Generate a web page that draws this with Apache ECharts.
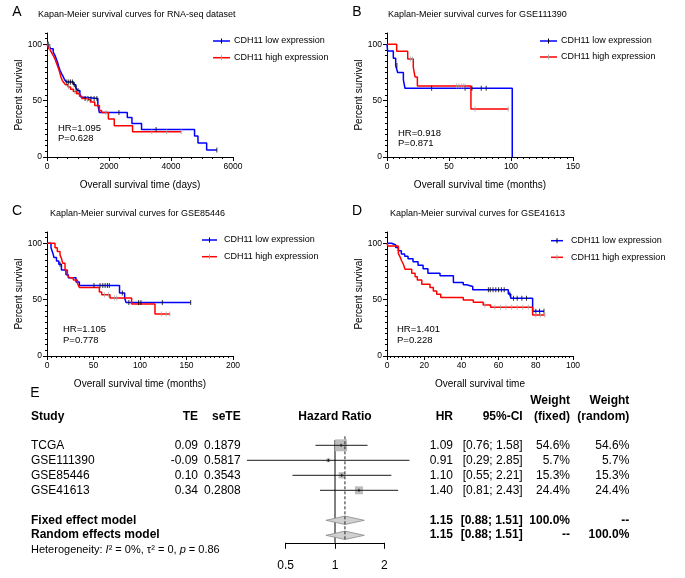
<!DOCTYPE html>
<html><head><meta charset="utf-8">
<script src="https://cdn.jsdelivr.net/npm/echarts@6/dist/echarts.min.js"></script>
<style>html,body{margin:0;padding:0;background:#fff}#c{width:685px;height:578px}</style>
</head><body><div id="c"></div>
<script>
const FONT = '"Liberation Sans", Arial, Helvetica, sans-serif';

// ---------- Panel A : RNA-seq dataset (days) ----------
const aLowTime  = [0, 60, 120, 200, 260, 300, 340, 380, 420, 470, 510, 560, 620, 860, 930, 990, 1060, 1100, 1170, 1640, 1690, 2590, 2740, 3050, 4760, 4870, 5150, 5480];
const aLowSurv  = [100, 98, 96, 93, 90, 87, 84, 80, 77, 74, 72, 69, 66.5, 64, 61, 59, 56, 53, 52, 46, 39.5, 35, 29.8, 24.5, 18.6, 12.4, 6.2, 6.2];
const aLowCens  = [20, 50, 90, 640, 700, 760, 820, 880, 940, 1000, 1230, 1320, 1420, 1520, 1610, 2320, 3520, 5480];
const aHighTime = [0, 40, 100, 160, 220, 270, 310, 350, 390, 420, 450, 490, 540, 600, 680, 760, 850, 950, 1050, 1120, 1250, 1400, 1540, 1690, 1760, 1980, 2170, 2760, 4330];
const aHighSurv = [100, 97, 95, 92, 89, 86, 83, 80, 77, 74, 71, 68, 66, 64, 62, 60, 58, 56, 54, 52, 50.5, 48.7, 45.7, 41.3, 39.5, 33.6, 27.7, 22.4, 22.4];
const aHighCens = [30, 80, 700, 900, 1300, 1900, 3380, 3860, 4330];

// ---------- Panel B : GSE111390 (months) ----------
const bLowTime  = [0, 0.5, 5.1, 7, 8.6, 13.2, 14.5, 101];
const bLowSurv  = [100, 94, 87.5, 81.2, 75, 68.5, 61, 0];
const bLowCens  = [8, 36, 63, 68.5, 76, 80];
const bHighTime = [0, 7.8, 16.7, 21.2, 22.6, 24.5, 67.7, 97.8];
const bHighSurv = [100, 93.8, 87, 79.5, 71, 63, 42.5, 42.5];
const bHighCens = [19, 20.5, 56, 58, 60, 61.5, 63, 71, 97.8];

// ---------- Panel C : GSE85446 (months) ----------
const cLowTime  = [0, 4.3, 6.4, 7.5, 10.2, 12.7, 15.5, 20.4, 22.9, 31.2, 34.8, 78, 83.5, 85, 154.5];
const cLowSurv  = [100, 96, 91, 87.3, 84.3, 81.4, 76.3, 72, 69.5, 65.6, 62.5, 55.8, 51.5, 47.5, 47.5];
const cLowCens  = [14, 50.5, 57, 60, 62.5, 65, 67, 81, 88, 98.5, 101, 124, 154.5];
const cHighTime = [0, 8.6, 11.1, 14, 15.5, 17, 19.4, 21.9, 24, 28.3, 32.7, 34.8, 56.3, 58.8, 67.7, 91, 116.1, 132.3];
const cHighSurv = [100, 96.1, 92.6, 89.6, 86.6, 82.2, 76.3, 71.9, 69.5, 67.5, 64.5, 60.8, 56.7, 54.3, 51.5, 46.2, 37.3, 37.3];
const cHighCens = [62, 66, 72.5, 75, 123, 128, 132];

// ---------- Panel D : GSE41613 ----------
const dLowTime  = [0, 2.5, 4.7, 6.1, 7.7, 9.5, 11.3, 14, 16.7, 19.4, 22, 28.5, 35.7, 41, 42.8, 46.1, 65.2, 66.5, 78.3, 84.4];
const dLowSurv  = [100, 98.5, 96.2, 93.3, 90.5, 88.5, 86.2, 83.6, 80.6, 77.3, 73.4, 71.3, 65.2, 63.2, 61.7, 58.8, 55, 51.2, 39.6, 39.6];
const dLowCens  = [54.5, 55.5, 57, 58.5, 60, 61.5, 63, 66, 68, 70, 72.5, 75, 80, 82, 84.4];
const dHighTime = [0, 0.5, 6.1, 7, 7.9, 8.8, 9.7, 13.3, 15.1, 16.3, 18.7, 23.1, 24.9, 26.7, 28.9, 41, 46.4, 51.7, 55.7, 78.3, 84.9];
const dHighSurv = [100, 97.5, 91, 88, 84.3, 81.4, 77, 73.4, 70.4, 67.5, 63.7, 60.7, 57.7, 54.8, 51.8, 49.7, 47.6, 45.3, 43.2, 36.4, 36.4];
const dHighCens = [52.6, 58, 61, 64, 67, 70, 73, 76, 80, 82.5, 84.9];

// ---------- Panel texts / axes ----------
const panelLetters = ['A', 'B', 'C', 'D'];
const panelTitles = ['Kapan-Meier survival curves for RNA-seq dataset', 'Kaplan-Meier survival curves for GSE111390',
                     'Kaplan-Meier survival curves for GSE85446', 'Kaplan-Meier survival curves for GSE41613'];
const xTitles = ['Overall survival time (days)', 'Overall survival time (months)', 'Overall survival time (months)', 'Overall survival time'];
const yTitle = 'Percent survival';
const xMax = [6000, 150, 200, 100];
const xMajor = [2000, 50, 50, 20];
const xMinor = [2000 / 6, 5, 5, 2];
const yMax = 110;
const yTickValues = [0, 50, 100];
const yMinor = 5;
const hrTexts = ['HR=1.095', 'HR=0.918', 'HR=1.105', 'HR=1.401'];
const pTexts = ['P=0.628', 'P=0.871', 'P=0.778', 'P=0.228'];
const legendNames = ['CDH11 low expression', 'CDH11 high expression'];

// ---------- Panel E : forest plot ----------
const studies = ['TCGA', 'GSE111390', 'GSE85446', 'GSE41613'];
const teVals = ['0.09', '-0.09', '0.10', '0.34'];
const seTEVals = ['0.1879', '0.5817', '0.3543', '0.2808'];
const hrVals = [1.09, 0.91, 1.10, 1.40];
const ciLow = [0.76, 0.29, 0.55, 0.81];
const ciHigh = [1.58, 2.85, 2.21, 2.43];
const wFixed = [54.6, 5.7, 15.3, 24.4];
const wRandom = [54.6, 5.7, 15.3, 24.4];
const modelNames = ['Fixed effect model', 'Random effects model'];
const modelHR = [1.15, 1.15];
const modelLow = [0.88, 0.88];
const modelHigh = [1.51, 1.51];
const modelWFixed = ['100.0%', '--'];
const modelWRandom = ['--', '100.0%'];
const forestTicks = [0.5, 1, 2];

// ---------- layout (pixels) ----------
const panels = [
  { low: [aLowTime, aLowSurv, aLowCens], high: [aHighTime, aHighSurv, aHighCens],
    left: 47, top: 33, letter: [17, 12], title: [38, 15], lg: { x1: 213, x2: 230, tx: 234, y: [41, 57.7] }, hr: [58, 128, 138.5] },
  { low: [bLowTime, bLowSurv, bLowCens], high: [bHighTime, bHighSurv, bHighCens],
    left: 387, top: 33, letter: [357, 12], title: [388, 15], lg: { x1: 540, x2: 557, tx: 561, y: [41, 57] }, hr: [398, 133, 143] },
  { low: [cLowTime, cLowSurv, cLowCens], high: [cHighTime, cHighSurv, cHighCens],
    left: 47, top: 232, letter: [17, 211], title: [50, 214], lg: { x1: 202, x2: 217, tx: 224, y: [240, 256.7] }, hr: [63, 329, 340] },
  { low: [dLowTime, dLowSurv, dLowCens], high: [dHighTime, dHighSurv, dHighCens],
    left: 387, top: 232, letter: [357, 211], title: [390, 214], lg: { x1: 551, x2: 563, tx: 571, y: [240.7, 257.3] }, hr: [397, 329, 340] }
];
const LOW_COLOR = '#0000ff', HIGH_COLOR = '#ff0000';
const LOW_CENS = '#000000', HIGH_CENS = '#a8a8a8';

function survAt(T, S, t) { let v = S[0]; for (let i = 0; i < T.length; i++) { if (T[i] <= t) v = S[i]; } return v; }
function zip(a, b) { return a.map((v, i) => [v, b[i]]); }

const grid = [], xAxis = [], yAxis = [], series = [], graphic = [];
const txt = (x, y, text, size, opts) => Object.assign({ type: 'text', x: x, y: y, silent: true,
  style: Object.assign({ text: text, fontSize: size, fontFamily: FONT, fill: '#000', align: 'left', verticalAlign: 'middle' }, (opts || {})) });
const plain = v => String(v);

panels.forEach((p, gi) => {
  grid.push({ left: p.left, top: p.top, width: 186, height: 124 });
  xAxis.push({ gridIndex: gi, type: 'value', min: 0, max: xMax[gi], interval: xMajor[gi], position: 'bottom',
    axisLine: { onZero: false, lineStyle: { color: '#000', width: 1 } },
    axisTick: { length: 4, lineStyle: { color: '#000' } },
    axisLabel: { fontSize: 8.5, color: '#000', margin: 5, fontFamily: FONT, formatter: plain },
    splitLine: { show: false },
    name: xTitles[gi], nameLocation: 'middle', nameGap: 23, nameTextStyle: { fontSize: 10, color: '#000', fontFamily: FONT } });
  xAxis.push({ gridIndex: gi, type: 'value', min: 0, max: xMax[gi], interval: xMinor[gi], position: 'bottom',
    axisLine: { show: false }, axisTick: { length: 2, lineStyle: { color: '#000' } }, axisLabel: { show: false }, splitLine: { show: false } });
  yAxis.push({ gridIndex: gi, type: 'value', min: 0, max: yMax, position: 'left',
    axisLine: { onZero: false, lineStyle: { color: '#000', width: 1 } },
    axisTick: { length: 4, customValues: yTickValues, lineStyle: { color: '#000' } },
    axisLabel: { fontSize: 8.5, color: '#000', margin: 5, fontFamily: FONT, customValues: yTickValues, formatter: plain },
    splitLine: { show: false },
    name: yTitle, nameLocation: 'middle', nameGap: 21, nameTextStyle: { fontSize: 10, color: '#000', fontFamily: FONT } });
  yAxis.push({ gridIndex: gi, type: 'value', min: 0, max: yMax, interval: yMinor, position: 'left',
    axisLine: { show: false }, axisTick: { length: 2, lineStyle: { color: '#000' } }, axisLabel: { show: false }, splitLine: { show: false } });
  const ai = 2 * gi;
  [[p.low, LOW_COLOR, LOW_CENS, legendNames[0]], [p.high, HIGH_COLOR, HIGH_CENS, legendNames[1]]].forEach(([d, col, cc, nm]) => {
    series.push({ type: 'line', name: nm, xAxisIndex: ai, yAxisIndex: ai, data: zip(d[0], d[1]), step: 'end', symbol: 'none',
      lineStyle: { color: col, width: 1.5 }, silent: true, z: 3 });
    series.push({ type: 'scatter', name: nm, xAxisIndex: ai, yAxisIndex: ai, data: d[2].map(t => [t, survAt(d[0], d[1], t)]),
      symbol: 'rect', symbolSize: [1, 5], itemStyle: { color: cc }, silent: true, z: 4 });
  });
  graphic.push(txt(p.letter[0], p.letter[1], panelLetters[gi], 14, { align: 'center' }));
  graphic.push(txt(p.title[0], p.title[1], panelTitles[gi], 9));
  graphic.push(txt(p.hr[0], p.hr[1], hrTexts[gi], 9.5));
  graphic.push(txt(p.hr[0], p.hr[2], pTexts[gi], 9.5));
  [[LOW_COLOR, LOW_CENS], [HIGH_COLOR, HIGH_CENS]].forEach(([col, cc], k) => {
    const y = p.lg.y[k], mx = (p.lg.x1 + p.lg.x2) / 2;
    graphic.push({ type: 'line', silent: true, shape: { x1: p.lg.x1, y1: y, x2: p.lg.x2, y2: y }, style: { stroke: col, lineWidth: 1.5 } });
    graphic.push({ type: 'line', silent: true, shape: { x1: mx, y1: y - 2.5, x2: mx, y2: y + 2.5 }, style: { stroke: cc, lineWidth: 1 } });
    graphic.push(txt(p.lg.tx, y, legendNames[k], 9));
  });
});

// ---------- Forest plot grid ----------
grid.push({ left: 285.7, top: 430.3, width: 98.6, height: 112.5 });
xAxis.push({ gridIndex: 4, type: 'log', logBase: 2, min: 0.5, max: 2, position: 'bottom',
  axisLine: { onZero: false, lineStyle: { color: '#000', width: 1 } },
  axisTick: { length: 6, customValues: forestTicks, lineStyle: { color: '#000' } },
  axisLabel: { fontSize: 12, color: '#000', margin: 17, fontFamily: FONT, customValues: forestTicks },
  splitLine: { show: false } });
yAxis.push({ gridIndex: 4, type: 'value', min: -1, max: 6.5, inverse: true, show: false });
const fxi = xAxis.length - 1, fyi = yAxis.length - 1;
series.push({ type: 'line', xAxisIndex: fxi, yAxisIndex: fyi, data: [[1, -0.35], [1, 6.5]], symbol: 'none',
  lineStyle: { color: '#000', width: 1 }, silent: true, z: 2 });
series.push({ type: 'line', xAxisIndex: fxi, yAxisIndex: fyi, data: [[modelHR[0], -0.6], [modelHR[0], 6.3]], symbol: 'none',
  lineStyle: { color: '#222', width: 1, type: [3, 2] }, silent: true, z: 5 });
series.push({ type: 'custom', xAxisIndex: fxi, yAxisIndex: fyi, clip: false, silent: true, z: 3,
  data: studies.map((s, i) => [hrVals[i], ciLow[i], ciHigh[i], wFixed[i], i]),
  encode: { x: [0, 1, 2], y: 4 },
  renderItem: function (params, api) {
    const row = api.value(4);
    const c = api.coord([api.value(0), row]);
    const l = api.coord([api.value(1), row]);
    const h = api.coord([api.value(2), row]);
    const s = 1.62 * Math.sqrt(api.value(3));
    return { type: 'group', children: [
      { type: 'rect', shape: { x: c[0] - s / 2, y: c[1] - s / 2, width: s, height: s }, style: { fill: '#bdbdbd' } },
      { type: 'line', shape: { x1: l[0], y1: c[1], x2: h[0], y2: c[1] }, style: { stroke: '#000', lineWidth: 0.9 } },
      { type: 'line', shape: { x1: c[0], y1: c[1] - 1.5, x2: c[0], y2: c[1] + 1.5 }, style: { stroke: '#000', lineWidth: 0.9 } }
    ] };
  } });
series.push({ type: 'custom', xAxisIndex: fxi, yAxisIndex: fyi, clip: false, silent: true, z: 3,
  data: modelNames.map((m, i) => [modelHR[i], modelLow[i], modelHigh[i], 5 + i]),
  encode: { x: [0, 1, 2], y: 3 },
  renderItem: function (params, api) {
    const row = api.value(3);
    const c = api.coord([api.value(0), row]);
    const l = api.coord([api.value(1), row]);
    const h = api.coord([api.value(2), row]);
    return { type: 'polygon', shape: { points: [[l[0], c[1]], [c[0], c[1] - 4.2], [h[0], c[1]], [c[0], c[1] + 4.2]] },
      style: { fill: '#d0d0d0', stroke: '#8a8a8a', lineWidth: 0.8 } };
  } });

// ---------- Forest table text ----------
const col = { study: 31, te: 198, se: 240.7, hrc: 335, hr: 453, ci: 522.7, wf: 570, wr: 629.3 };
const rowY = [446, 461, 475.7, 490.7], modelY = [520.7, 535], hetY = 550, headY = [401, 416.7];
const B = { fontWeight: 'bold' };
graphic.push(txt(35, 393, 'E', 14, { align: 'center' }));
graphic.push(txt(col.study, headY[1], 'Study', 12, B));
graphic.push(txt(col.te, headY[1], 'TE', 12, Object.assign({ align: 'right' }, B)));
graphic.push(txt(col.se, headY[1], 'seTE', 12, Object.assign({ align: 'right' }, B)));
graphic.push(txt(col.hrc, headY[1], 'Hazard Ratio', 12, Object.assign({ align: 'center' }, B)));
graphic.push(txt(col.hr, headY[1], 'HR', 12, Object.assign({ align: 'right' }, B)));
graphic.push(txt(col.ci, headY[1], '95%-CI', 12, Object.assign({ align: 'right' }, B)));
graphic.push(txt(col.wf, headY[0], 'Weight', 12, Object.assign({ align: 'right' }, B)));
graphic.push(txt(col.wf, headY[1], '(fixed)', 12, Object.assign({ align: 'right' }, B)));
graphic.push(txt(col.wr, headY[0], 'Weight', 12, Object.assign({ align: 'right' }, B)));
graphic.push(txt(col.wr, headY[1], '(random)', 12, Object.assign({ align: 'right' }, B)));
const f2 = v => v.toFixed(2);
studies.forEach((s, i) => {
  const y = rowY[i];
  graphic.push(txt(col.study, y, s, 12));
  graphic.push(txt(col.te, y, teVals[i], 12, { align: 'right' }));
  graphic.push(txt(col.se, y, seTEVals[i], 12, { align: 'right' }));
  graphic.push(txt(col.hr, y, f2(hrVals[i]), 12, { align: 'right' }));
  graphic.push(txt(col.ci, y, '[' + f2(ciLow[i]) + '; ' + f2(ciHigh[i]) + ']', 12, { align: 'right' }));
  graphic.push(txt(col.wf, y, wFixed[i].toFixed(1) + '%', 12, { align: 'right' }));
  graphic.push(txt(col.wr, y, wRandom[i].toFixed(1) + '%', 12, { align: 'right' }));
});
modelNames.forEach((m, i) => {
  const y = modelY[i];
  graphic.push(txt(col.study, y, m, 12, B));
  graphic.push(txt(col.hr, y, f2(modelHR[i]), 12, Object.assign({ align: 'right' }, B)));
  graphic.push(txt(col.ci, y, '[' + f2(modelLow[i]) + '; ' + f2(modelHigh[i]) + ']', 12, Object.assign({ align: 'right' }, B)));
  graphic.push(txt(col.wf, y, modelWFixed[i], 12, Object.assign({ align: 'right' }, B)));
  graphic.push(txt(col.wr, y, modelWRandom[i], 12, Object.assign({ align: 'right' }, B)));
});
graphic.push(txt(col.study, hetY, '{a|Heterogeneity: }{i|I}{a|² = 0%, τ² = 0, }{i|p}{a| = 0.86}', 11, {
  rich: { a: { fontSize: 11, fontFamily: FONT, fill: '#000' }, i: { fontSize: 11, fontFamily: FONT, fontStyle: 'italic', fill: '#000' } } }));

const chart = echarts.init(document.getElementById('c'), null, { renderer: 'canvas' });
chart.setOption({ animation: false, backgroundColor: '#fff', textStyle: { fontFamily: FONT },
  grid: grid, xAxis: xAxis, yAxis: yAxis, series: series, graphic: graphic });
</script></body></html>
